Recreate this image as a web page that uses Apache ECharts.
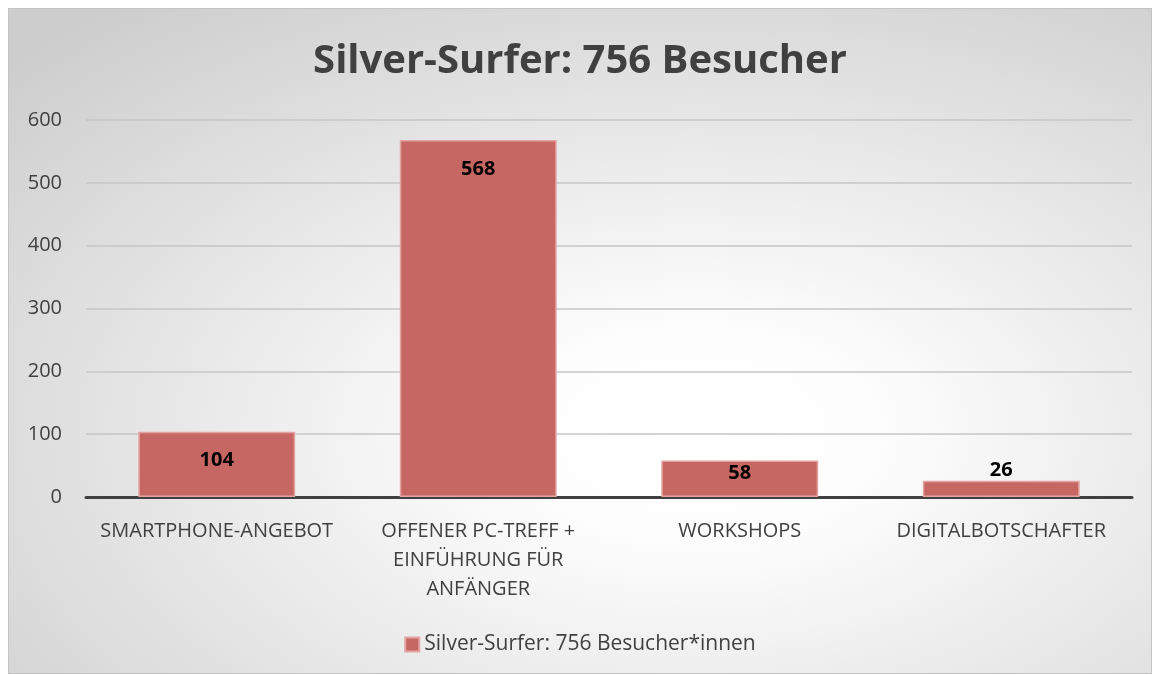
<!DOCTYPE html>
<html>
<head>
<meta charset="utf-8">
<script src="https://cdn.jsdelivr.net/npm/echarts@6/dist/echarts.min.js"></script>
<style>
  html, body { margin: 0; padding: 0; background: #fff; }
  #chart {
    position: absolute; left: 8px; top: 8px;
    width: 1142px; height: 664px;
    border: 1px solid #c4c4c4;
  }
</style>
</head>
<body>
<div id="chart"></div>
<script>
const categories = [
  'SMARTPHONE-ANGEBOT',
  'OFFENER PC-TREFF +\nEINFÜHRUNG FÜR\nANFÄNGER',
  'WORKSHOPS',
  'DIGITALBOTSCHAFTER'
];
const visitors = [104, 568, 58, 26];
const seriesName = 'Silver-Surfer: 756 Besucher*innen';
const titleText = 'Silver-Surfer: 756 Besucher';
const yTicks = { min: 0, max: 600, interval: 100 };

const font = '"Open Sans", "Noto Sans", sans-serif';
const textGrey = '#404040';
const W = 1142, H = 664;

// where the value label goes, like excel does it: inside the top, or above if the bar is too thin
function labelFor(value) {
  if (value >= 100) return { position: 'insideTop', distance: 19 };
  if (value >= 40) return { position: 'insideTop', distance: 3 };
  return { position: 'top', distance: 0 };
}

const chart = echarts.init(document.getElementById('chart'));

const option = {
  animation: false,
  backgroundColor: '#d4d4d4',
  textStyle: { fontFamily: font },
  // excel "from center" gradient -> square radial stretched into an ellipse
  graphic: [{
    type: 'rect',
    silent: true,
    z: -100,
    x: 0, y: 0,
    scaleX: W / H,
    shape: { x: 0, y: 0, width: H, height: H },
    style: {
      fill: {
        type: 'radial', x: 0.6, y: 0.64, r: 0.82,
        colorStops: [
          { offset: 0, color: '#ffffff' },
          { offset: 0.2, color: '#fdfdfd' },
          { offset: 1, color: '#cdcdcd' }
        ]
      }
    }
  }],
  title: {
    text: titleText,
    left: 'center',
    top: 28,
    textStyle: { fontFamily: font, fontSize: 40, fontWeight: 'bold', color: textGrey }
  },
  legend: {
    left: 'center',
    top: 620,
    itemWidth: 14,
    itemHeight: 14,
    itemGap: 6,
    textStyle: { fontFamily: font, fontSize: 21, color: textGrey },
    data: [{ name: seriesName, icon: 'rect' }]
  },
  grid: { left: 77, right: 19, top: 111, bottom: 176 },
  xAxis: {
    type: 'category',
    data: categories,
    axisTick: { show: false },
    axisLine: { lineStyle: { color: '#404040', width: 3 } },
    axisLabel: {
      color: textGrey, fontSize: 20, fontFamily: font,
      margin: 20, lineHeight: 29, interval: 0
    }
  },
  yAxis: {
    type: 'value',
    min: yTicks.min, max: yTicks.max, interval: yTicks.interval,
    axisLine: { show: false },
    axisTick: { show: false },
    axisLabel: { color: textGrey, fontSize: 20, fontFamily: font, margin: 24 },
    splitLine: { lineStyle: { color: '#c6c6c6', width: 1.5 } }
  },
  series: [{
    name: seriesName,
    type: 'bar',
    barCategoryGap: '40%',
    itemStyle: { color: '#c76764', borderColor: '#e3a3a1', borderWidth: 1.5 },
    label: {
      show: true, color: '#000', fontWeight: 'bold', fontSize: 20, fontFamily: font
    },
    data: visitors.map(v => ({ value: v, label: labelFor(v) }))
  }]
};

chart.setOption(option);
</script>
</body>
</html>
